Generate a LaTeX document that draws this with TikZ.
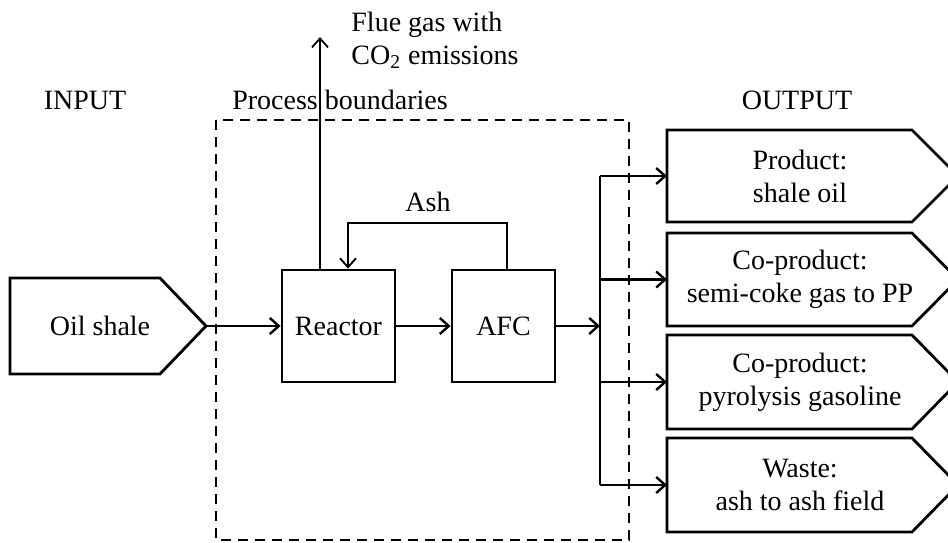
\documentclass[tikz,border=0pt]{standalone}
\usepackage{fontspec}
\setmainfont{Liberation Serif}
\usetikzlibrary{arrows.meta}
\begin{document}
\begin{tikzpicture}[x=0.5pt,y=-0.5pt,
  font=\fontsize{14}{16.5}\selectfont,
  box/.style={draw,line width=1.4pt,minimum height=56pt,inner sep=0pt},
  tagbox/.style={draw,line width=1.4pt,line join=miter},
  flow/.style={line width=1.2pt,-{Straight Barb[length=4.5pt,width=8pt,line width=1.2pt]}},
  thinflow/.style={line width=0.9pt,-{Straight Barb[length=4.5pt,width=8pt,line width=0.9pt]}},
  lbl/.style={inner sep=0pt,align=center}]
\useasboundingbox (0,0) rectangle (948,542);
\clip (0,0) rectangle (948,542);
% labels
\node[lbl] (input) at (85,100) {INPUT};
\node[lbl] (output) at (797,100) {OUTPUT};
\node[lbl] (pb) at (340,100) {Process boundaries};
\node[lbl,anchor=west,align=left] (flue) at (351,40) {Flue gas with\\CO\textsubscript{2} emissions};
% boundary
\draw[line width=0.9pt,dash pattern=on 5pt off 3.5pt] (216,120) rectangle (629,540);
% input
\draw[tagbox] (10,278) -- (160,278) -- (206,326) -- (160,374) -- (10,374) -- cycle;
\coordinate (oiltip) at (206,326);
\node[lbl] (oil) at (100,326) {Oil shale};
% process
\node[box,minimum width=56.5pt] (reactor) at (338.5,326) {Reactor};
\node[box,minimum width=51.5pt] (afc) at (503.5,326) {AFC};
\draw[flow] (oiltip) -- (reactor.west);
\draw[flow] (reactor.east) -- (afc.west);
% flue gas
\coordinate (fluetop) at (320,37);
\draw[thinflow] (fluetop |- reactor.north) -- (fluetop);
% ash loop
\coordinate (ashL) at (348,223);
\coordinate (ashR) at (507,223);
\draw[thinflow] (ashR |- afc.north) -- (ashR) -- (ashL) -- (ashL |- reactor.north);
\node[lbl] (ash) at (428,202) {Ash};
% outputs
\foreach \n/\t/\b/\txt in {o1/130/222/{Product:\\shale oil},
                            o2/233/326/{Co-product:\\semi-coke gas to PP},
                            o3/335/429/{Co-product:\\pyrolysis gasoline},
                            o4/438/532/{Waste:\\ash to ash field}}{
  \draw[tagbox] (667,\t) -- (912,\t) -- ({958},{(\t+\b)/2}) -- (912,\b) -- (667,\b) -- cycle;
  \coordinate (\n) at (667,{(\t+\b)/2});
  \node[lbl] (\n t) at (800,{(\t+\b)/2}) {\txt};
}
\coordinate (split) at (600,326);
\draw[flow] (afc.east) -- (split);
\draw[line width=1.2pt] (o1 -| split) -- (o4 -| split);
\foreach \n in {o1,o2,o3,o4}
  \draw[flow] (\n -| split) -- (\n);
\end{tikzpicture}
\end{document}
